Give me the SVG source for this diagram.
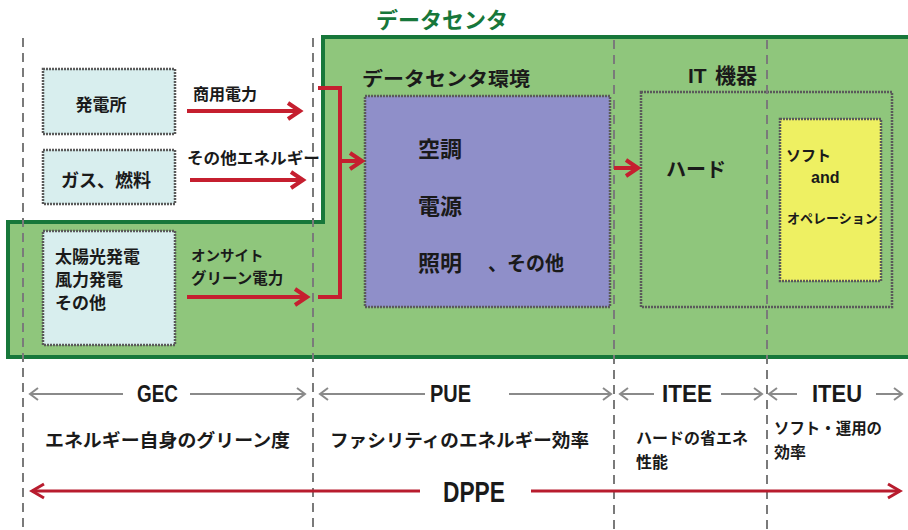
<svg xmlns="http://www.w3.org/2000/svg" width="908" height="530" viewBox="0 0 908 530">
<defs>
<style>
.jp{font-family:"Noto Sans CJK JP","Noto Sans CJK SC",sans-serif;font-weight:700;fill:#1a1a1a}
.lat{font-family:"Liberation Sans Narrow","Liberation Sans",Arial,sans-serif;font-weight:700;fill:#1a1a1a}
.box{stroke:#5a5a5a;stroke-width:2.5;stroke-dasharray:2 1}
.dash{stroke:#7a7a7a;stroke-width:2;stroke-dasharray:9 6;fill:none}
.red{stroke:#c51f2f;stroke-width:4;fill:none}
.redthin{stroke:#b81c2e;stroke-width:3;fill:none}
.gray{stroke:#8a8a8a;stroke-width:2;fill:none}
</style>
<marker id="rh" markerUnits="userSpaceOnUse" markerWidth="20" markerHeight="22" refX="14" refY="10" orient="auto" viewBox="0 0 20 22">
<path d="M2,2 L14,10 L2,18" fill="none" stroke="#c51f2f" stroke-width="4"/>
</marker>
<marker id="rh2" markerUnits="userSpaceOnUse" markerWidth="20" markerHeight="22" refX="14" refY="10" orient="auto" viewBox="0 0 20 22">
<path d="M2,3 L14,10 L2,17" fill="none" stroke="#b81c2e" stroke-width="3"/>
</marker>
<marker id="gh" markerUnits="userSpaceOnUse" markerWidth="14" markerHeight="16" refX="10" refY="7" orient="auto" viewBox="0 0 14 16">
<path d="M2,1 L10,7 L2,13" fill="none" stroke="#8a8a8a" stroke-width="2"/>
</marker>
</defs>
<rect width="908" height="530" fill="#ffffff"/>

<g id="datacenter">
<path d="M8,222 L323,222 L323,37 L915,37 L915,357 L8,357 Z" fill="#8fc67c" stroke="#17773a" stroke-width="4"/>
<text x="376" y="28" font-family="Noto Sans CJK JP,sans-serif" font-weight="700" font-size="22" fill="#17773a">データセンタ</text>
</g>

<g id="plant">
<rect x="43" y="69" width="132" height="65" fill="#d8eeee" class="box"/>
<text class="jp" x="101" y="111" font-size="17" text-anchor="middle">発電所</text>
</g>
<g id="gas">
<rect x="43" y="150" width="132" height="54" fill="#d8eeee" class="box"/>
<text class="jp" x="106" y="187" font-size="18" text-anchor="middle">ガス、燃料</text>
</g>
<g id="renewable">
<rect x="43" y="231" width="132" height="114" fill="#d8eeee" class="box"/>
<text class="jp" x="55" y="263" font-size="17">太陽光発電</text>
<text class="jp" x="55" y="286" font-size="17">風力発電</text>
<text class="jp" x="55" y="309" font-size="17">その他</text>
</g>

<g id="facility">
<text class="jp" x="362" y="86" font-size="19" textLength="168" lengthAdjust="spacingAndGlyphs">データセンタ環境</text>
<rect x="365" y="96" width="245" height="211" fill="#8f8fc9" class="box"/>
<text class="jp" x="418" y="157" font-size="22">空調</text>
<text class="jp" x="418" y="214" font-size="22">電源</text>
<text class="jp" x="418" y="271" font-size="22">照明</text>
<text class="jp" x="488" y="271" font-size="20" textLength="76" lengthAdjust="spacingAndGlyphs">、その他</text>
</g>

<g id="it">
<text class="lat" x="688" y="83" font-size="21">IT</text>
<text class="jp" x="715" y="83" font-size="21">機器</text>
<rect x="641" y="92" width="251" height="215" fill="#8fc67c" class="box"/>
<text class="jp" x="666" y="177" font-size="20">ハード</text>
</g>
<g id="software">
<rect x="780" y="119" width="101" height="162" fill="#eef062" class="box"/>
<text class="jp" x="786" y="161" font-size="15">ソフト</text>
<text class="lat" x="811" y="183" font-size="16">and</text>
<text class="jp" x="787" y="223" font-size="13">オペレーション</text>
</g>

<g id="dividers">
<line class="dash" x1="23" y1="38" x2="23" y2="530"/>
<line class="dash" x1="313" y1="38" x2="313" y2="530"/>
<line class="dash" x1="614" y1="40" x2="614" y2="530"/>
<line class="dash" x1="767" y1="40" x2="767" y2="530"/>
</g>

<g id="connectors">
<line class="red" x1="187" y1="111" x2="300" y2="111" marker-end="url(#rh)"/>
<line class="red" x1="190" y1="180" x2="303" y2="180" marker-end="url(#rh)"/>
<line class="red" x1="187" y1="297" x2="307" y2="297" marker-end="url(#rh)"/>
<path class="red" d="M318,88 L340,88 L340,297 L318,297" stroke-width="3.5"/>
<line class="red" x1="340" y1="161" x2="362" y2="161" stroke-width="3.5" marker-end="url(#rh)"/>
<line class="red" x1="614" y1="168" x2="638" y2="168" stroke-width="3.5" marker-end="url(#rh)"/>
<line class="gray" x1="123" y1="394" x2="30" y2="394" marker-end="url(#gh)"/>
<line class="gray" x1="190" y1="394" x2="305" y2="394" marker-end="url(#gh)"/>
<line class="gray" x1="425" y1="394" x2="320" y2="394" marker-end="url(#gh)"/>
<line class="gray" x1="509" y1="394" x2="611" y2="394" marker-end="url(#gh)"/>
<line class="gray" x1="654" y1="394" x2="620" y2="394" marker-end="url(#gh)"/>
<line class="gray" x1="721" y1="394" x2="762" y2="394" marker-end="url(#gh)"/>
<line class="gray" x1="797" y1="394" x2="769" y2="394" marker-end="url(#gh)"/>
<line class="gray" x1="876" y1="394" x2="902" y2="394" marker-end="url(#gh)"/>
<line class="redthin" x1="420" y1="491" x2="32" y2="491" marker-end="url(#rh2)"/>
<line class="redthin" x1="531" y1="491" x2="900" y2="491" marker-end="url(#rh2)"/>
</g>

<g id="labels">
<text class="jp" x="193" y="100" font-size="16">商用電力</text>
<text class="jp" x="187" y="164" font-size="16" textLength="133" lengthAdjust="spacingAndGlyphs">その他エネルギー</text>
<text class="jp" x="191" y="261" font-size="14.5">オンサイト</text>
<text class="jp" x="191" y="284" font-size="15.5">グリーン電力</text>
<text class="lat" x="137" y="402" font-size="23" textLength="41" lengthAdjust="spacingAndGlyphs">GEC</text>
<text class="lat" x="430" y="402" font-size="23" textLength="41" lengthAdjust="spacingAndGlyphs">PUE</text>
<text class="lat" x="662" y="402" font-size="23" textLength="50" lengthAdjust="spacingAndGlyphs">ITEE</text>
<text class="lat" x="812" y="402" font-size="23" textLength="50" lengthAdjust="spacingAndGlyphs">ITEU</text>
<text class="lat" x="443" y="502" font-size="29" textLength="62" lengthAdjust="spacingAndGlyphs">DPPE</text>
<text class="jp" x="45" y="447" font-size="18" textLength="245" lengthAdjust="spacingAndGlyphs">エネルギー自身のグリーン度</text>
<text class="jp" x="330" y="447" font-size="18" textLength="259" lengthAdjust="spacingAndGlyphs">ファシリティのエネルギー効率</text>
<text class="jp" x="636" y="444" font-size="16">ハードの省エネ</text>
<text class="jp" x="636" y="468" font-size="16">性能</text>
<text class="jp" x="774" y="434" font-size="16" textLength="108" lengthAdjust="spacingAndGlyphs">ソフト・運用の</text>
<text class="jp" x="774" y="458" font-size="16">効率</text>
</g>
</svg>
